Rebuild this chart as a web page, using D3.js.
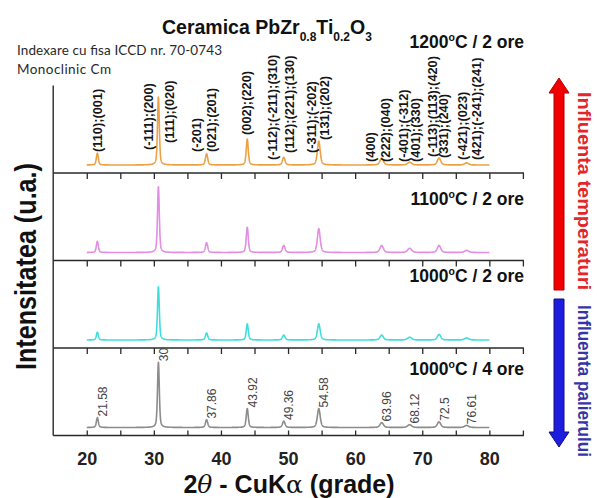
<!DOCTYPE html>
<html>
<head>
<meta charset="utf-8">
<script src="https://cdn.jsdelivr.net/npm/d3@7"></script>
<style>
  html, body { margin: 0; padding: 0; background: #fff; }
  svg { display: block; }
</style>
</head>
<body>
<svg id="chart" width="597" height="498"></svg>
<script>
// Reflection positions (2θ, degrees) shared by all patterns
const peakPositions = [21.58, 30.68, 37.86, 43.92, 49.36, 54.58, 63.96, 68.12, 72.5, 76.61];
// Peak widths (FWHM, degrees)
const peakWidths = [0.35, 0.32, 0.40, 0.36, 0.45, 0.50, 0.60, 0.70, 0.60, 0.70];

// Sample conditions, top to bottom
const sampleNames = ["1200°C / 2 ore", "1100°C / 2 ore", "1000°C / 2 ore", "1000°C / 4 ore"];
// Relative peak intensities (u.a.) for each sample
const int1200_2h = [17, 97, 16, 37, 11, 34, 10, 4, 10, 3];
const int1100_2h = [16, 94, 14, 36, 10, 34, 10, 6, 10, 3];
const int1000_2h = [11, 76, 10, 23, 7, 23, 7, 4, 8, 3];
const int1000_4h = [14, 93, 11, 27, 9, 27, 7, 4, 8, 3];
const sampleIntensities = [int1200_2h, int1100_2h, int1000_2h, int1000_4h];

const xTickValues = [20, 30, 40, 50, 60, 70, 80];

// Miller indices (ICCD 70-0743, monoclinic Cm) and the peak each belongs to
const hklTexts = ["(110);(001)", "(-111);(200)", "(111);(020)", "(-201)", "(021);(201)",
  "(002);(220)", "(-112);(-211);(310)", "(112);(221);(130)", "(-311);(-202)", "(131);(202)",
  "(400)", "(222);(040)", "(-401);(-312)", "(401);(330)", "(-113);(113);(420)", "(331);(240)",
  "(-421);(023)", "(421);(-241);(241)"];
const hklPeak = [0, 1, 1, 2, 2, 3, 4, 4, 5, 5, 6, 6, 7, 7, 8, 8, 9, 9];

// ---------------------------------------------------------------------------
const svg = d3.select("#chart");
const FONT = "'Liberation Sans', Arial, Helvetica, sans-serif";
const colors = ["#eea043", "#e28ee2", "#3fdede", "#8c8c8c"];

const plotLeft = 53.2, plotRight = 522.9;
const panelTop = 85.5, panelH = 87.5;
const x = d3.scaleLinear().domain([15, 85]).range([plotLeft, plotRight]);

const panelBottom = i => panelTop + (i + 1) * panelH;
const yScale = i => d3.scaleLinear().domain([0, 100])
  .range([panelBottom(i) - 8, panelBottom(i) - 8 - 70]);

// pseudo-Voigt line shape for one reflection
function peakShape(t2, k, h) {
  const u = (t2 - peakPositions[k]) / peakWidths[k];
  const eta = 0.45;
  return h * (eta / (1 + 4 * u * u) + (1 - eta) * Math.exp(-4 * Math.LN2 * u * u));
}
const grid = d3.range(20, 80.0001, 0.02);
function profile(ints) {
  return grid.map(t2 => [t2, d3.sum(ints, (h, k) => peakShape(t2, k, h))]);
}

// --- patterns --------------------------------------------------------------
sampleIntensities.forEach((ints, i) => {
  const y = yScale(i);
  const line = d3.line().x(d => x(d[0])).y(d => y(d[1]));
  svg.append("path")
    .attr("d", line(profile(ints)))
    .attr("fill", "none")
    .attr("stroke", colors[i])
    .attr("stroke-width", 1.6)
    .attr("stroke-linejoin", "round");
});

// --- axes ------------------------------------------------------------------
const axisColor = "#2a2a2a";
svg.append("line")
  .attr("x1", plotLeft).attr("x2", plotLeft)
  .attr("y1", panelTop).attr("y2", panelBottom(3))
  .attr("stroke", axisColor).attr("stroke-width", 1.4);

const tickVals = d3.range(20, 86, 5);
for (let i = 0; i < 4; i++) {
  const yb = panelBottom(i);
  const last = i === 3;
  const g = svg.append("g").attr("transform", `translate(0,${yb})`);
  const ax = (last ? d3.axisTop(x) : d3.axisBottom(x))
    .tickValues(tickVals).tickSize(last ? 5 : 6).tickFormat("");
  g.call(ax);
  g.select(".domain").remove();
  g.selectAll(".tick line").attr("stroke", axisColor).attr("stroke-width", 1.3);
  g.append("line")
    .attr("x1", plotLeft).attr("x2", plotRight + 1)
    .attr("stroke", axisColor).attr("stroke-width", 1.5);
}

// tick labels
svg.append("g")
  .attr("transform", `translate(0,${panelBottom(3)})`)
  .call(d3.axisBottom(x).tickValues(xTickValues).tickSize(0).tickPadding(17))
  .call(g => g.select(".domain").remove())
  .selectAll("text")
  .attr("font-family", FONT).attr("font-weight", "bold")
  .attr("font-size", 18).attr("fill", "#222");

// axis titles
const xt = svg.append("text")
  .attr("x", 289).attr("y", 493)
  .attr("text-anchor", "middle")
  .attr("font-family", FONT).attr("font-weight", "bold")
  .attr("font-size", 25).attr("fill", "#111");
xt.append("tspan").text("2");
xt.append("tspan").attr("font-style", "italic").attr("font-weight", "normal")
  .attr("font-family", "'DejaVu Serif', serif").text("θ");
xt.append("tspan").text(" - CuK");
xt.append("tspan").attr("font-weight", "normal").attr("font-family", "'DejaVu Serif', serif").text("α");
xt.append("tspan").text(" (grade)");

svg.append("text")
  .attr("transform", "translate(36,266.5) rotate(-90)")
  .attr("text-anchor", "middle")
  .attr("font-family", FONT).attr("font-weight", "bold")
  .attr("font-size", 30).attr("fill", "#111")
  .attr("textLength", 207).attr("lengthAdjust", "spacingAndGlyphs")
  .text("Intensitatea (u.a.)");

// --- title and notes -------------------------------------------------------
const title = svg.append("text")
  .attr("x", 162).attr("y", 34)
  .attr("font-family", FONT).attr("font-weight", "bold")
  .attr("font-size", 19.5).attr("fill", "#111");
title.append("tspan").text("Ceramica PbZr");
title.append("tspan").attr("font-size", 12).attr("dy", 7).text("0.8");
title.append("tspan").attr("dy", -7).text("Ti");
title.append("tspan").attr("font-size", 12).attr("dy", 7).text("0.2");
title.append("tspan").attr("dy", -7).text("O");
title.append("tspan").attr("font-size", 12).attr("dy", 7).text("3");

svg.append("text")
  .attr("x", 17).attr("y", 55)
  .attr("font-family", "Lato, 'Open Sans', sans-serif")
  .attr("font-size", 13.5).attr("fill", "#2a2a2a")
  .attr("textLength", 205).attr("lengthAdjust", "spacing")
  .text("Indexare cu fisa ICCD nr. 70-0743");
svg.append("text")
  .attr("x", 17).attr("y", 74)
  .attr("font-family", "Lato, 'Open Sans', sans-serif")
  .attr("font-size", 13.5).attr("fill", "#2a2a2a")
  .attr("textLength", 94).attr("lengthAdjust", "spacing")
  .text("Monoclinic Cm");

// --- sample labels ---------------------------------------------------------
const sampleLabelY = [48, 205, 282, 375];
sampleNames.forEach((name, i) => {
  const [temp, rest] = name.split("°");
  const t = svg.append("text")
    .attr("x", 524).attr("y", sampleLabelY[i])
    .attr("text-anchor", "end")
    .attr("font-family", FONT).attr("font-weight", "bold")
    .attr("font-size", 17.5).attr("fill", "#111");
  t.append("tspan").text(temp);
  t.append("tspan").attr("font-size", 10.5).attr("dy", -7).text("o");
  t.append("tspan").attr("dy", 7).text(rest);
});

// --- Miller index labels over the top pattern ------------------------------
const hklDx = [0.6, -9.4, 11.6, -9.6, 5.4, -0.3, -10.8, 6.2, -6.8, 6.2, -11.7, 3.3, -6.6, 5.4, -7, 4, -3.6, 10.4];
const hklLift = [13, 15, 22, 13, 13, 30, 5, 12, 12, 25, 3, 3, 3, 3, 8, 7, 5, 5];
const y0 = yScale(0);
svg.append("g").selectAll("text")
  .data(hklTexts)
  .join("text")
  .attr("transform", (d, j) =>
    `translate(${x(peakPositions[hklPeak[j]]) + hklDx[j]},${y0(0) - hklLift[j]}) rotate(-90)`)
  .attr("dy", "0.35em")
  .attr("font-family", FONT).attr("font-weight", "bold")
  .attr("font-size", 12.8).attr("fill", "#151515")
  .text(d => d);

// --- peak position labels over the bottom pattern ---------------------------
const y3 = yScale(3);
svg.append("defs").append("clipPath").attr("id", "panel4")
  .append("rect")
  .attr("x", plotLeft).attr("y", panelBottom(2) - 0.6)
  .attr("width", plotRight - plotLeft).attr("height", panelH);
svg.append("g").attr("clip-path", "url(#panel4)")
  .selectAll("text")
  .data(peakPositions)
  .join("text")
  .attr("transform", (d, k) =>
    `translate(${x(d) + 5.5},${y3(int1000_4h[k]) - 1.2}) rotate(-90)`)
  .attr("dy", "0.35em")
  .attr("font-family", FONT)
  .attr("font-size", 12).attr("fill", "#444")
  .text(d => String(d));

// --- trend arrows ----------------------------------------------------------
function arrowPath(xc, yTail, yTip, headLen, shaftW, headW) {
  const dir = Math.sign(yTip - yTail);
  const yb = yTip - dir * headLen;
  return `M${xc - shaftW / 2},${yTail} L${xc - shaftW / 2},${yb} L${xc - headW / 2},${yb}
          L${xc},${yTip} L${xc + headW / 2},${yb} L${xc + shaftW / 2},${yb} L${xc + shaftW / 2},${yTail} Z`;
}
svg.append("path")
  .attr("d", arrowPath(559, 290, 78, 15, 10, 20))
  .attr("fill", "#f00000").attr("stroke", "#b00000").attr("stroke-width", 1);
svg.append("path")
  .attr("d", arrowPath(559, 299, 447, 15, 10, 20))
  .attr("fill", "#1d1de0").attr("stroke", "#10107a").attr("stroke-width", 1);

svg.append("text")
  .attr("transform", "translate(578,92) rotate(90)")
  .attr("font-family", FONT).attr("font-weight", "bold")
  .attr("font-size", 19).attr("fill", "#e3262b")
  .attr("textLength", 198).attr("lengthAdjust", "spacingAndGlyphs")
  .text("Influenta temperaturi");
svg.append("text")
  .attr("transform", "translate(578,305) rotate(90)")
  .attr("font-family", FONT).attr("font-weight", "bold")
  .attr("font-size", 18).attr("fill", "#3535a8")
  .attr("textLength", 152).attr("lengthAdjust", "spacingAndGlyphs")
  .text("Influenta palierului");
</script>
</body>
</html>
